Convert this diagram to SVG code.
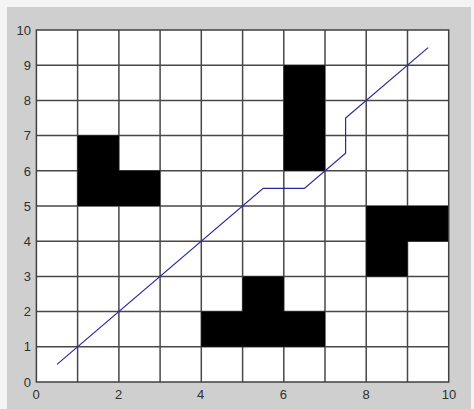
<svg xmlns="http://www.w3.org/2000/svg" width="474" height="409" viewBox="0 0 474 409">
<style>
.grid{stroke:#484848;stroke-width:1.5;fill:none}
.obs{fill:#000}
.lbl{font-family:"Liberation Sans",Arial,sans-serif;font-size:13px;fill:#303030}
</style>
<rect x="0" y="0" width="474" height="409" fill="#f4f4f4"/>
<rect x="7" y="7" width="464" height="402" fill="#cfcfcf"/>
<rect x="36.4" y="30" width="412.3" height="352" fill="#fff"/>
<g id="grid" class="grid">
<path d="M77.6,30V382M118.9,30V382M160.1,30V382M201.3,30V382M242.6,30V382M283.8,30V382M325,30V382M366.2,30V382M407.5,30V382"/>
<path d="M36.4,65.2H448.7M36.4,100.4H448.7M36.4,135.6H448.7M36.4,170.8H448.7M36.4,206H448.7M36.4,241.2H448.7M36.4,276.4H448.7M36.4,311.6H448.7M36.4,346.8H448.7"/>
</g>
<g id="obstacles">
<polygon class="obs" points="77.6,135.6 118.9,135.6 118.9,170.8 160.1,170.8 160.1,206 77.6,206"/>
<rect class="obs" x="283.8" y="65.2" width="41.2" height="105.6"/>
<polygon class="obs" points="366.2,206 448.7,206 448.7,241.2 407.5,241.2 407.5,276.4 366.2,276.4"/>
<polygon class="obs" points="242.6,276.4 283.8,276.4 283.8,311.6 325,311.6 325,346.8 201.3,346.8 201.3,311.6 242.6,311.6"/>
</g>
<rect id="axes" x="36.4" y="30" width="412.3" height="352" fill="none" stroke="#404040" stroke-width="1.5"/>
<g id="connectors">
<polyline points="57,364.4 263.2,188.4 304.4,188.4 345.6,153.2 345.6,118 428.1,47.6" fill="none" stroke="#2828a0" stroke-width="1.2"/>
</g>
<g id="labels" class="lbl">
<text x="36" y="398.5" text-anchor="middle">0</text>
<text x="118.6" y="398.5" text-anchor="middle">2</text>
<text x="200.6" y="398.5" text-anchor="middle">4</text>
<text x="283.4" y="398.5" text-anchor="middle">6</text>
<text x="366" y="398.5" text-anchor="middle">8</text>
<text x="449" y="398.5" text-anchor="middle">10</text>
<g text-anchor="end">
<text x="31" y="386.6">0</text>
<text x="31" y="351.4">1</text>
<text x="31" y="316.2">2</text>
<text x="31" y="281">3</text>
<text x="31" y="245.8">4</text>
<text x="31" y="210.6">5</text>
<text x="31" y="175.6">6</text>
<text x="31" y="140.4">7</text>
<text x="31" y="105.2">8</text>
<text x="31" y="70">9</text>
<text x="31" y="34.8">10</text>
</g>
</g>
</svg>
